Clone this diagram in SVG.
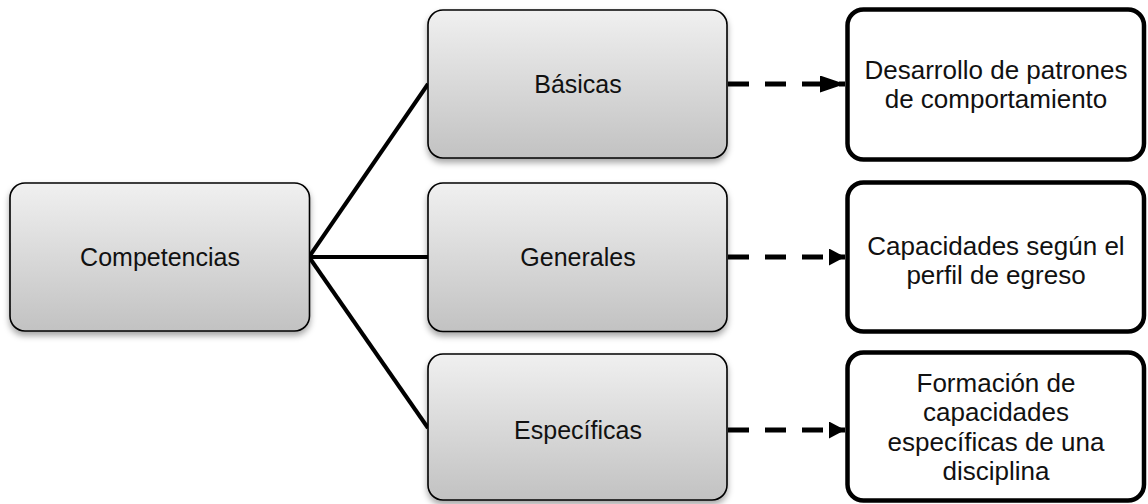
<svg xmlns="http://www.w3.org/2000/svg" width="1148" height="504" viewBox="0 0 1148 504">
<defs>
<linearGradient id="g" x1="0" y1="0" x2="0" y2="1">
<stop offset="0" stop-color="#f0f0f0"/>
<stop offset="1" stop-color="#c2c2c2"/>
</linearGradient>
<filter id="sh" x="-10%" y="-10%" width="120%" height="125%">
<feDropShadow dx="0" dy="4" stdDeviation="3" flood-color="#000" flood-opacity="0.35"/>
</filter>
<marker id="ah" viewBox="0 0 10 10" refX="10" refY="5" markerWidth="5" markerHeight="3.4" orient="auto" markerUnits="strokeWidth" preserveAspectRatio="none">
<path d="M0,0 L10,5 L0,10 z" fill="#000"/>
</marker>
<marker id="ah2" viewBox="0 0 10 10" refX="10" refY="5" markerWidth="3.2" markerHeight="3.4" orient="auto" markerUnits="strokeWidth" preserveAspectRatio="none">
<path d="M0,0 L10,5 L0,10 z" fill="#000"/>
</marker>
</defs>
<style>
.gb{fill:url(#g);stroke:#000;stroke-width:1.6;filter:url(#sh)}
.wb{fill:#fff;stroke:#000;stroke-width:4.5}
text{font-family:"Liberation Sans",Arial,sans-serif;font-size:25px;fill:#111;text-anchor:middle}
.r{font-size:26px}
.ln{stroke:#000;stroke-width:4;fill:none}
.da{stroke:#000;stroke-width:5;fill:none;stroke-dasharray:21 16}
</style>
<g id="connectors">
<line class="ln" x1="309" y1="257" x2="428" y2="84"/>
<line class="ln" x1="309" y1="257" x2="428" y2="257"/>
<line class="ln" x1="309" y1="257" x2="428" y2="428"/>
<line class="da" x1="728" y1="84" x2="845" y2="84" marker-end="url(#ah)"/>
<line class="da" x1="728" y1="257" x2="845" y2="257" stroke-dasharray="21 16 18 12" marker-end="url(#ah2)"/>
<line class="da" x1="728" y1="430" x2="845" y2="430" stroke-dasharray="21 16 18 12" marker-end="url(#ah2)"/>
</g>
<g id="competencias">
<rect class="gb" x="10" y="183" width="299.5" height="148" rx="15"/>
<text x="160" y="266">Competencias</text>
</g>
<g id="basicas">
<rect class="gb" x="428" y="10" width="299" height="148" rx="15"/>
<text x="578" y="93">Básicas</text>
</g>
<g id="generales">
<rect class="gb" x="428" y="183" width="299" height="148.5" rx="15"/>
<text x="578" y="266">Generales</text>
</g>
<g id="especificas">
<rect class="gb" x="428" y="354" width="299" height="146" rx="15"/>
<text x="578" y="439">Específicas</text>
</g>
<g id="desarrollo">
<rect class="wb" x="847.5" y="9.5" width="296.5" height="150" rx="16"/>
<text class="r" x="996" y="79">Desarrollo de patrones</text>
<text class="r" x="996" y="108">de comportamiento</text>
</g>
<g id="capacidades">
<rect class="wb" x="847.5" y="182.5" width="296.5" height="149" rx="16"/>
<text class="r" x="996" y="255">Capacidades según el</text>
<text class="r" x="996" y="284">perfil de egreso</text>
</g>
<g id="formacion">
<rect class="wb" x="847.5" y="352.5" width="296.5" height="148" rx="16"/>
<text class="r" x="996" y="392">Formación de</text>
<text class="r" x="996" y="421">capacidades</text>
<text class="r" x="996" y="451">específicas de una</text>
<text class="r" x="996" y="480">disciplina</text>
</g>
</svg>
